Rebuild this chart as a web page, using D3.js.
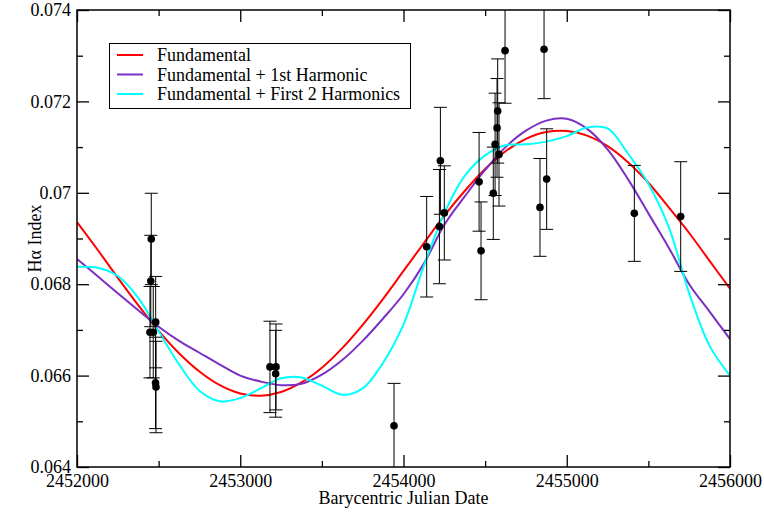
<html>
<head>
<script src="https://d3js.org/d3.v7.min.js"></script>
<style>
    body { margin: 0; background: #fff; }
    svg { display: block; }
    text { font-family: "Liberation Serif", "Times New Roman", serif; font-size: 18px; fill: #000; }
    .tick line { stroke: #000; stroke-width: 1.3px; }
</style>
</head>
<body>
<svg id="chart" width="764" height="514"></svg>
<script>

    // ---- data ----
    var jdGrid = [2452000, 2452125, 2452250, 2452375, 2452500, 2452625, 2452750, 2452875,
                  2453000, 2453125, 2453250, 2453375, 2453500, 2453625, 2453750, 2453875,
                  2454000, 2454125, 2454250, 2454375, 2454500, 2454625, 2454750, 2454875,
                  2455000, 2455125, 2455250, 2455375, 2455500, 2455625, 2455750, 2455875, 2456000];

    var fundamental = [0.06936, 0.06876, 0.06814, 0.06754, 0.06698, 0.06649, 0.06609, 0.06579,
                       0.06561, 0.06556, 0.06564, 0.06585, 0.06617, 0.06660, 0.06711, 0.06768,
                       0.06829, 0.06890, 0.06950, 0.07004, 0.07052, 0.07091, 0.07118, 0.07133,
                       0.07135, 0.07125, 0.07102, 0.07067, 0.07022, 0.06968, 0.06912, 0.06851, 0.06790];

    var firstHarmonic = [0.06855, 0.06818, 0.06780, 0.06743, 0.06707, 0.06676, 0.06650, 0.06624,
                         0.06600, 0.06587, 0.06579, 0.06582, 0.06602, 0.06634, 0.06676, 0.06725,
                         0.06778, 0.06845, 0.06930, 0.06992, 0.07050, 0.07100, 0.07136, 0.07158,
                         0.07162, 0.07140, 0.07095, 0.07030, 0.06955, 0.06880, 0.06800, 0.06740, 0.06680];

    var twoHarmonics = [0.06838, 0.06836, 0.06818, 0.06770, 0.06697, 0.06625, 0.06567, 0.06544,
                        0.06551, 0.06572, 0.06594, 0.06596, 0.06578, 0.06558, 0.06572, 0.06628,
                        0.06712, 0.06840, 0.06955, 0.07037, 0.07082, 0.07104, 0.07106, 0.07112,
                        0.07124, 0.07143, 0.07141, 0.07086, 0.07020, 0.06925, 0.06780, 0.06665, 0.06600];

    var ptJD  = [2452447, 2452455, 2452452, 2452467, 2452482, 2452481, 2452484,
                 2453182, 2453219, 2453217, 2453942,
                 2454142, 2454220, 2454226, 2454250, 2454463, 2454475,
                 2454550, 2454561, 2454573, 2454577, 2454585, 2454622,
                 2454836, 2454861, 2454877, 2455414, 2455698];
    var ptVal = [0.06695, 0.06899, 0.06807, 0.06695, 0.06717, 0.06584, 0.06575,
                 0.06619, 0.06619, 0.06604, 0.06490,
                 0.06882, 0.06926, 0.07070, 0.06956, 0.07024, 0.06873,
                 0.06999, 0.07106, 0.07142, 0.07179, 0.07084, 0.07311,
                 0.06968, 0.07314, 0.07030, 0.06955, 0.06948];
    var ptErr = [0.00100, 0.00100, 0.00100, 0.00100, 0.00100, 0.00100, 0.00100,
                 0.00100, 0.00094, 0.00095, 0.00093,
                 0.00110, 0.00125, 0.00117, 0.00103, 0.00108, 0.00107,
                 0.00101, 0.00112, 0.00108, 0.00114, 0.00113, 0.00115,
                 0.00107, 0.00108, 0.00110, 0.00105, 0.00120];

    var xMajor = [2452000, 2453000, 2454000, 2455000, 2456000],
        xMinor = [2452500, 2453500, 2454500, 2455500];
    var yMajor = [0.064, 0.066, 0.068, 0.070, 0.072, 0.074],
        yMinor = [0.065, 0.067, 0.069, 0.071, 0.073];
    var yTickLabels = ['0.064', '0.066', '0.068', '0.07', '0.072', '0.074'];

    var seriesNames  = ['Fundamental', 'Fundamental + 1st Harmonic', 'Fundamental + First 2 Harmonics'];
    var seriesColors = ['#ff0000', '#7b2fc4', '#00ffff'];
    var seriesData   = [fundamental, firstHarmonic, twoHarmonics];

    var serif = '"Liberation Serif", "Times New Roman", serif';

    // ---- layout ----
    var svg = d3.select('#chart');
    var plotL = 77, plotR = 730, plotT = 10, plotB = 467;

    var x = d3.scaleLinear().domain([2452000, 2456000]).range([plotL, plotR]);
    var y = d3.scaleLinear().domain([0.064, 0.074]).range([plotB, plotT]);

    svg.append('clipPath').attr('id', 'plot-clip')
      .append('rect')
        .attr('x', plotL).attr('y', plotT)
        .attr('width', plotR - plotL).attr('height', plotB - plotT);

    var plot = svg.append('g').attr('clip-path', 'url(#plot-clip)');

    // curves
    var line = d3.line()
        .x(function(d, i) { return x(jdGrid[i]); })
        .y(function(d) { return y(d); })
        .curve(d3.curveCatmullRom.alpha(0.5));

    plot.selectAll('.curve')
        .data(seriesData)
      .enter()
        .append('path')
        .attr('class', 'curve')
        .attr('d', line)
        .attr('fill', 'none')
        .attr('stroke', function(d, i) { return seriesColors[i]; })
        .attr('stroke-width', 2);

    // error bars and points
    var pts = d3.range(ptJD.length).map(function(i) {
        return { jd: ptJD[i], v: ptVal[i], e: ptErr[i] };
    });

    var bars = plot.selectAll('.err')
        .data(pts)
      .enter()
        .append('g')
        .attr('class', 'err')
        .attr('stroke', '#000')
        .attr('stroke-width', 1);

    bars.append('line')
        .attr('x1', function(d) { return x(d.jd); })
        .attr('x2', function(d) { return x(d.jd); })
        .attr('y1', function(d) { return y(d.v + d.e); })
        .attr('y2', function(d) { return y(d.v - d.e); });

    [1, -1].forEach(function(s) {
        bars.append('line')
            .attr('x1', function(d) { return x(d.jd) - 6.5; })
            .attr('x2', function(d) { return x(d.jd) + 6.5; })
            .attr('y1', function(d) { return y(d.v + s * d.e); })
            .attr('y2', function(d) { return y(d.v + s * d.e); });
    });

    plot.selectAll('.pt')
        .data(pts)
      .enter()
        .append('circle')
        .attr('class', 'pt')
        .attr('cx', function(d) { return x(d.jd); })
        .attr('cy', function(d) { return y(d.v); })
        .attr('r', 3.8)
        .attr('fill', '#000');

    // axes: ticks inside on all four sides
    function addAxis(axis, tx, ty) {
        var g = svg.append('g').attr('transform', 'translate(' + tx + ',' + ty + ')').call(axis);
        g.attr('font-family', serif).attr('font-size', 18);
        g.selectAll('text').style('font-family', serif).style('font-size', '18px');
        g.select('.domain').remove();
        return g;
    }

    addAxis(d3.axisBottom(x).tickValues(xMajor).tickSize(-12).tickPadding(7).tickFormat(d3.format('d')), 0, plotB);
    addAxis(d3.axisBottom(x).tickValues(xMinor).tickSize(-6).tickFormat(''), 0, plotB);
    addAxis(d3.axisTop(x).tickValues(xMajor).tickSize(-12).tickFormat(''), 0, plotT);
    addAxis(d3.axisTop(x).tickValues(xMinor).tickSize(-6).tickFormat(''), 0, plotT);

    addAxis(d3.axisLeft(y).tickValues(yMajor).tickSize(-12).tickPadding(6)
            .tickFormat(function(d, i) { return yTickLabels[i]; }), plotL, 0);
    addAxis(d3.axisLeft(y).tickValues(yMinor).tickSize(-6).tickFormat(''), plotL, 0);
    addAxis(d3.axisRight(y).tickValues(yMajor).tickSize(-12).tickFormat(''), plotR, 0);
    addAxis(d3.axisRight(y).tickValues(yMinor).tickSize(-6).tickFormat(''), plotR, 0);

    svg.append('rect')
        .attr('x', plotL).attr('y', plotT)
        .attr('width', plotR - plotL).attr('height', plotB - plotT)
        .attr('fill', 'none')
        .attr('stroke', '#000')
        .attr('stroke-width', 1.5);

    // axis titles
    svg.append('text')
        .attr('x', (plotL + plotR) / 2)
        .attr('y', 504)
        .attr('text-anchor', 'middle')
        .text('Barycentric Julian Date');

    svg.append('text')
        .attr('transform', 'translate(41,' + ((plotT + plotB) / 2) + ') rotate(-90)')
        .attr('text-anchor', 'middle')
        .text('H\u03b1 Index');

    // legend
    var legend = svg.append('g');
    legend.append('rect')
        .attr('x', 109.5).attr('y', 43.5)
        .attr('width', 301).attr('height', 65)
        .attr('fill', '#fff')
        .attr('stroke', '#000')
        .attr('stroke-width', 1);

    var rows = legend.selectAll('.lrow')
        .data(seriesNames)
      .enter()
        .append('g')
        .attr('class', 'lrow')
        .attr('transform', function(d, i) { return 'translate(0,' + (55 + i * 19.5) + ')'; });

    rows.append('line')
        .attr('x1', 117).attr('x2', 143)
        .attr('stroke', function(d, i) { return seriesColors[i]; })
        .attr('stroke-width', 2);

    rows.append('text')
        .attr('x', 157)
        .attr('dy', '0.35em')
        .text(function(d) { return d; });

</script>
</body>
</html>
